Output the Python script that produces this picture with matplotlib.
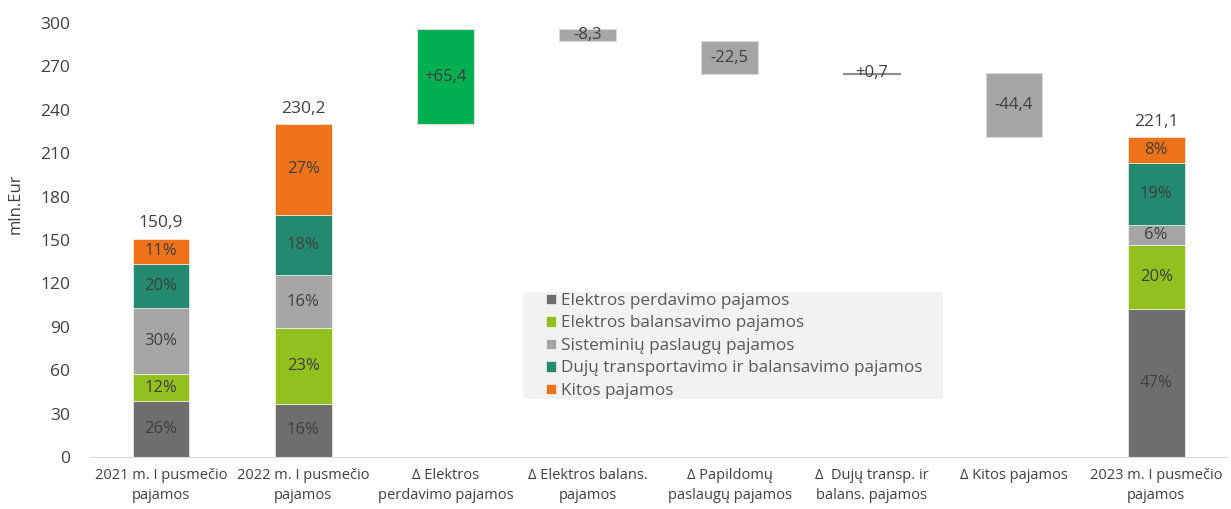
import matplotlib.pyplot as plt
from matplotlib.patches import Rectangle
import numpy as np

plt.rcParams['font.family'] = ['Open Sans', 'DejaVu Sans']

# kategorijos
kategorijos = ["2021 m. I pusmečio\npajamos", "2022 m. I pusmečio\npajamos",
               "Δ Elektros\nperdavimo pajamos", "Δ Elektros balans.\npajamos",
               "Δ Papildomų\npaslaugų pajamos", "Δ  Dujų transp. ir\nbalans. pajamos",
               "Δ Kitos pajamos", "2023 m. I pusmečio\npajamos"]

serijos = ["Elektros perdavimo pajamos", "Elektros balansavimo pajamos",
           "Sisteminių paslaugų pajamos", "Dujų transportavimo ir balansavimo pajamos",
           "Kitos pajamos"]

# stulpeliai su sudetimi (mln. Eur)
v2021 = [38.7, 18.7, 45.8, 30.2, 17.5]
v2022 = [36.8, 52.6, 36.2, 41.9, 62.7]
v2023 = [102.3, 44.2, 13.8, 42.7, 18.1]
proc2021 = ["26%", "12%", "30%", "20%", "11%"]
proc2022 = ["16%", "23%", "16%", "18%", "27%"]
proc2023 = ["47%", "20%", "6%", "19%", "8%"]
sumos = ["150,9", "230,2", "221,1"]

# pokyciai
pokyciai = [65.4, -8.3, -22.5, 0.7, -44.4]
pokyciu_tekstai = ["+65,4", "-8,3", "-22,5", "+0,7", "-44,4"]
pokyciu_spalvos = ["#00b050", "#a5a5a5", "#a5a5a5", "#a5a5a5", "#a5a5a5"]

spalvos = ["#6e6e6e", "#92c01f", "#a5a5a5", "#238a6f", "#ee7219"]
teksto_spalva = "#404040"

fig = plt.figure(figsize=(12.31, 5.09), dpi=100)
ax = fig.add_axes([0.073, 0.102, 0.924, 0.853])

plotis = 0.4
x = np.arange(len(kategorijos))

#%% sudeti stulpeliai
for xi, vals, procs, suma in [(0, v2021, proc2021, sumos[0]), (1, v2022, proc2022, sumos[1]),
                              (7, v2023, proc2023, sumos[2])]:
    apacia = 0
    for i, (v, p) in enumerate(zip(vals, procs)):
        ax.bar(xi, v, plotis, bottom=apacia, color=spalvos[i],
               label=serijos[i] if xi == 0 else None, edgecolor="white", linewidth=0.4)
        ax.text(xi, apacia + v / 2, p, ha="center", va="center", fontsize=12, color=teksto_spalva)
        apacia += v
    ax.text(xi, apacia + 5, suma, ha="center", va="bottom", fontsize=12.5, color=teksto_spalva)

#%% krioklys
lygis = sum(v2022)
for j, d in enumerate(pokyciai):
    xi = 2 + j
    apacia = lygis + min(d, 0)
    ax.bar(xi, abs(d), plotis, bottom=apacia, color=pokyciu_spalvos[j],
           edgecolor="#d9d9d9" if abs(d) > 2 else "#8c8c8c", linewidth=0.8)
    ax.text(xi, apacia + abs(d) / 2, pokyciu_tekstai[j], ha="center", va="center",
            fontsize=12, color=teksto_spalva)
    lygis += d

ax.set_xlim(-0.5, 7.5)
ax.set_ylim(0, 300)
ax.set_yticks(np.arange(0, 301, 30))
ax.set_xticks(x)
ax.set_xticklabels(kategorijos, fontsize=10.5, color=teksto_spalva, linespacing=1.45)
ax.tick_params(axis="y", labelsize=12.5, labelcolor=teksto_spalva, length=0, pad=14)
ax.tick_params(axis="x", length=0, pad=8)
for s in ["top", "right", "left"]:
    ax.spines[s].set_visible(False)
ax.spines["bottom"].set_color("#d9d9d9")
ax.set_ylabel("mln.Eur", fontsize=12, color=teksto_spalva)
ax.yaxis.set_label_coords(-0.058, 0.583)

# legendos fonas
fig.patches.append(Rectangle((523 / 1231, 110 / 509), 420 / 1231, 107 / 509,
                             transform=fig.transFigure, facecolor="#f2f2f2",
                             edgecolor="none", zorder=0))
leg = fig.legend(loc="upper left", bbox_to_anchor=(546 / 1231, 216 / 509),
                 fontsize=12.3, frameon=False, handlelength=0.6, handleheight=0.6,
                 handletextpad=0.25, labelspacing=0.38, borderpad=0, borderaxespad=0)
for t in leg.get_texts():
    t.set_color("#595959")

fig.savefig("out.png", dpi=100)
